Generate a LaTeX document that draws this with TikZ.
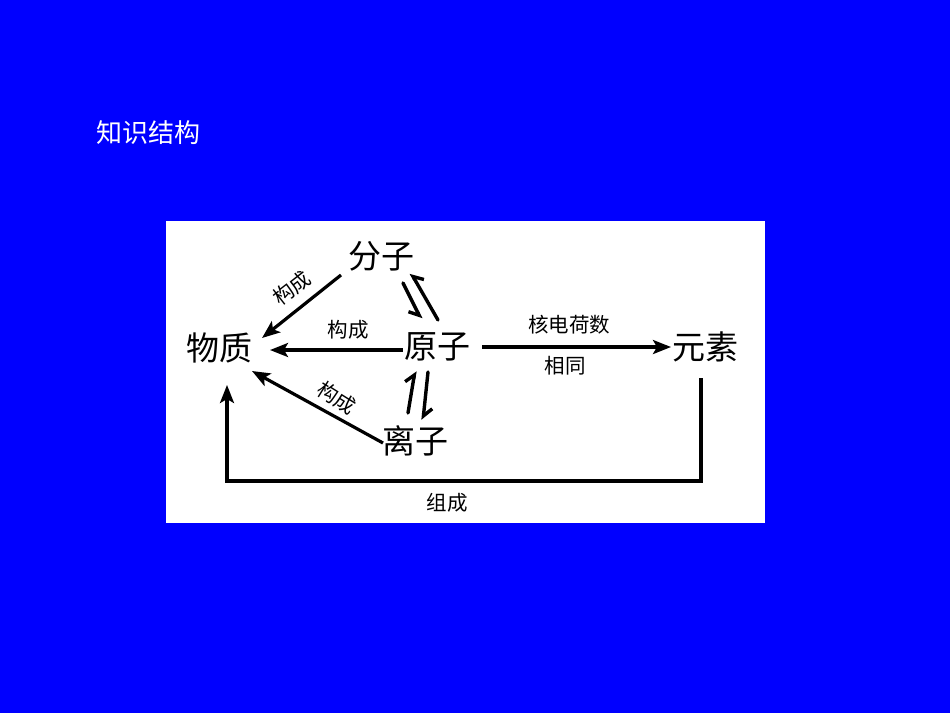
\documentclass[tikz,border=0pt]{standalone}
\usepackage{fontspec}
\newfontfamily\cjk{Noto Sans CJK SC}
\usetikzlibrary{arrows.meta,calc}
\definecolor{bgblue}{RGB}{0,0,255}
\begin{document}
\begin{tikzpicture}[x=1pt,y=-1pt,
  big/.style={font=\cjk\fontsize{33pt}{36pt}\selectfont, inner sep=1pt},
  small/.style={font=\cjk\fontsize{20.5pt}{23pt}\selectfont, inner sep=0pt},
  conn/.style={line width=3.2pt, -{Stealth[length=18pt,width=14pt,inset=4pt]}},
  harpL/.style={line width=3.4pt, line cap=round, -{Straight Barb[left,length=8pt,width=16pt,line width=3.4pt]}},
  harpR/.style={line width=3.4pt, line cap=round, -{Straight Barb[right,length=8pt,width=16pt,line width=3.4pt]}}
]
\fill[bgblue] (0,0) rectangle (950,713);
\useasboundingbox (0,0) rectangle (950,713);
\fill[white] (166,221) rectangle (765,523);

\node[font=\cjk\fontsize{26pt}{30pt}\selectfont, text=white] (title) at (148,133) {知识结构};

\node[big] (fenzi) at (381,256) {分子};
\node[big] (wuzhi) at (219,348) {物质};
\node[big] (yuanzi) at (437,347) {原子};
\node[big] (yuansu) at (705,347) {元素};
\node[big] (lizi) at (415,441) {离子};

\node[small, rotate=38] (l1) at (292,288) {构成};
\node[small] (l2) at (348,330) {构成};
\node[small, rotate=-32] (l3) at (337,398) {构成};
\node[small] (l4) at (569,325) {核电荷数};
\node[small] (l5) at (565,366) {相同};
\node[small] (l6) at (447,503) {组成};

\coordinate (a1) at (341,275);
\coordinate (b1) at (262,338);
\draw[conn] (a1) -- (b1);

\coordinate (b2) at (270,350);
\draw[conn] (yuanzi.west |- b2) -- (b2);

\coordinate (a3) at (383,443);
\coordinate (b3) at (252,371);
\draw[conn] (a3) -- (b3);

\coordinate (a4) at (482,347);
\coordinate (b4) at (671,347);
\draw[conn] (a4) -- (b4);

\coordinate (a5) at (701,378);
\coordinate (b5) at (227,385);
\draw[conn] (a5) -- (701,481) -- (227,481) -- (b5);

% equilibrium harpoons between 分子 and 原子
\coordinate (h1s) at (403,283);
\coordinate (h1e) at (421,319);
\coordinate (h2s) at (438,320);
\coordinate (h2e) at (411,273);
\draw[harpR] (h1s) -- (h1e);
\draw[harpR] (h2s) -- (h2e);

% equilibrium harpoons between 原子 and 离子
\coordinate (h3s) at (408,413);
\coordinate (h3e) at (415,371);
\coordinate (h4s) at (428,372);
\coordinate (h4e) at (423,420);
\draw[harpL] (h3s) -- (h3e);
\draw[harpL] (h4s) -- (h4e);
\end{tikzpicture}
\end{document}
